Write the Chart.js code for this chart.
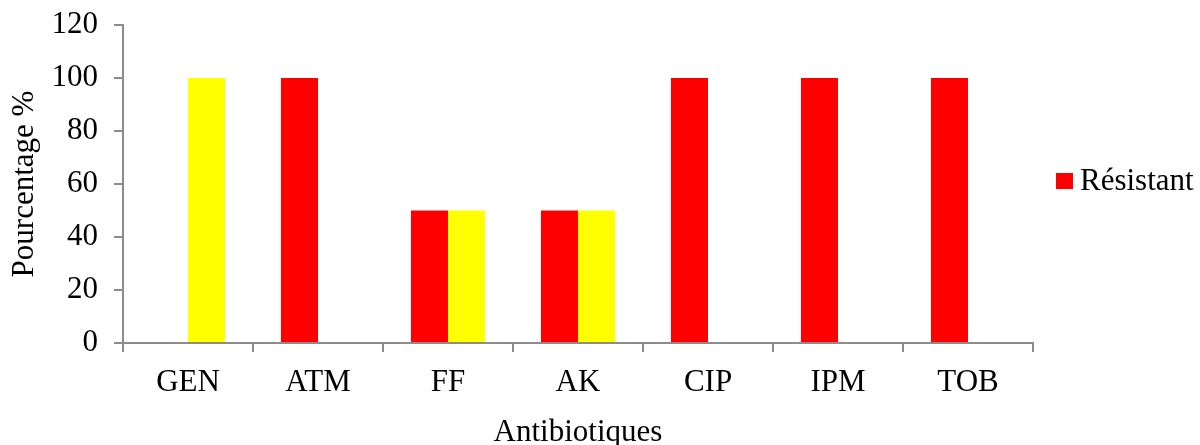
<!DOCTYPE html>
<html>
<head>
<meta charset="utf-8">
<script src="https://cdn.jsdelivr.net/npm/chart.js@4/dist/chart.umd.min.js"></script>
<style>
  html, body { margin: 0; padding: 0; background: #fff; }
  #wrap { width: 1200px; height: 445px; }
</style>
</head>
<body>
<div id="wrap"><canvas id="c" width="1200" height="445"></canvas></div>
<script>
// Antibiotiques testés
const categories = ['GEN', 'ATM', 'FF', 'AK', 'CIP', 'IPM', 'TOB'];
// Pourcentage de souches résistantes
const resistant = [0, 100, 50, 50, 100, 100, 100];
// Pourcentage de souches intermédiaires
const intermediaire = [100, 0, 50, 50, 0, 0, 0];
// Graduations de l'axe vertical
const yTicks = [0, 20, 40, 60, 80, 100, 120];

const FONT = '"Liberation Serif", "Times New Roman", serif';
const FONT_SIZE = 31;
const AXIS_GREY = '#8c8c8c';

// Légende dessinée à droite (seule la série rouge est affichée)
const sideLegend = {
  id: 'sideLegend',
  afterDraw(chart) {
    const ctx = chart.ctx;
    const ds = chart.data.datasets[0];
    ctx.save();
    ctx.fillStyle = ds.backgroundColor;
    ctx.fillRect(1056, 173, 17, 16);
    ctx.fillStyle = '#000';
    ctx.font = FONT_SIZE + 'px ' + FONT;
    ctx.textBaseline = 'middle';
    ctx.textAlign = 'left';
    ctx.fillText(ds.label, 1080, 182);
    ctx.restore();
  }
};

new Chart(document.getElementById('c'), {
  type: 'bar',
  data: {
    labels: categories,
    datasets: [
      { label: 'Résistant', data: resistant, backgroundColor: '#ff0000',
        barPercentage: 1.0, categoryPercentage: 0.57 },
      { label: 'Intermédiaire', data: intermediaire, backgroundColor: '#ffff00',
        barPercentage: 1.0, categoryPercentage: 0.57 }
    ]
  },
  options: {
    responsive: false,
    animation: false,
    layout: { padding: { left: 0, right: 167, top: 25, bottom: 0 } },
    plugins: { legend: { display: false }, tooltip: { enabled: false } },
    scales: {
      x: {
        offset: true,
        grid: { offset: true, drawOnChartArea: false, drawTicks: true, tickLength: 9,
                color: AXIS_GREY, lineWidth: 2 },
        border: { color: AXIS_GREY, width: 2 },
        ticks: { color: '#000', font: { family: FONT, size: FONT_SIZE }, padding: 12 },
        title: { display: true, text: 'Antibiotiques', color: '#000',
                 font: { family: FONT, size: FONT_SIZE }, padding: { top: 0, bottom: -6 } },
        afterFit(scale) { scale.height = 102; }
      },
      y: {
        min: 0, max: 120,
        afterBuildTicks(scale) { scale.ticks = yTicks.map(v => ({ value: v })); },
        grid: { drawOnChartArea: false, drawTicks: true, tickLength: 9,
                color: AXIS_GREY, lineWidth: 2 },
        border: { color: AXIS_GREY, width: 2 },
        ticks: { color: '#000', font: { family: FONT, size: FONT_SIZE }, padding: 16 },
        title: { display: true, text: 'Pourcentage %', color: '#000',
                 font: { family: FONT, size: FONT_SIZE }, padding: { top: 6, bottom: 0 } },
        afterFit(scale) {
          scale.width = 123;
          scale.paddingTop = 0;
          scale.paddingBottom = 0;
        }
      }
    }
  },
  plugins: [sideLegend]
});
</script>
</body>
</html>
